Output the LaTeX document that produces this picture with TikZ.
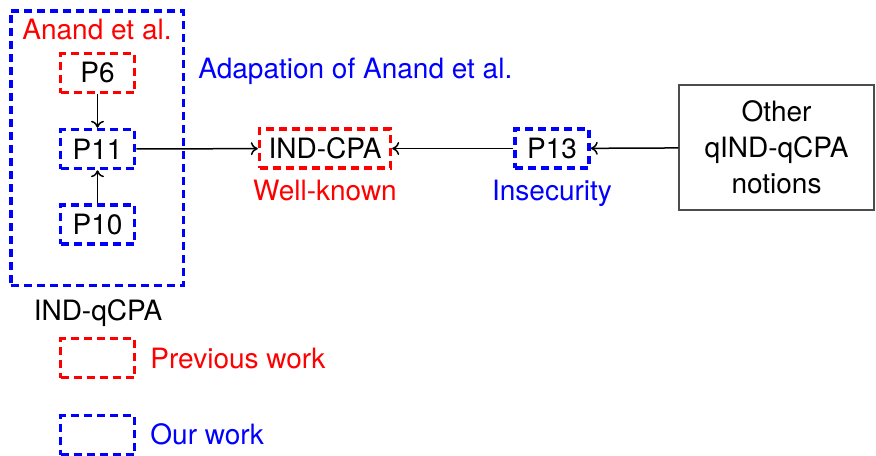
\documentclass[tikz,border=0pt]{standalone}
\usepackage{fontspec}
\setmainfont{TeX Gyre Heros}
\usetikzlibrary{arrows.meta}

\tikzstyle{box} = [minimum width=37pt, minimum height=19.5pt, inner xsep=4.5pt, line width=1.75pt, dash pattern=on 4pt off 2.5pt]
\tikzstyle{prev} = [box, draw=red]
\tikzstyle{ours} = [box, draw=blue]
\tikzstyle{link} = [-{To[length=3.5pt, width=6.5pt]}, line width=0.75pt]

\begin{document}
\begin{tikzpicture}[x=0.5pt, y=-0.5pt, font=\fontsize{14}{18}\selectfont]
\useasboundingbox (0,0) rectangle (876,455);

\node[ours, minimum width=86.25pt, minimum height=137.25pt] (qcpa) at (97,148) {};
\node[red, anchor=base] (anand) at (97,39) {Anand et al.};
\node[prev] (p6) at (97.5,73) {P6};
\node[ours] (p11) at (97.5,149) {P11};
\node[ours] (p10) at (97.5,224.5) {P10};
\node[anchor=base] (qcpalabel) at (98,320) {IND-qCPA};
\node[blue, anchor=base west, inner xsep=0pt] (adapt) at (198,78) {Adapation of Anand et al.};

\node[prev] (cpa) at (325,148.5) {IND-CPA};
\node[red, anchor=base] (known) at (325,200) {Well-known};
\node[ours] (p13) at (552,148.5) {P13};
\node[blue, anchor=base] (insec) at (552,200) {Insecurity};
\node[draw=black!70, line width=0.6pt, minimum width=97.5pt, minimum height=62.5pt, align=center] (other) at (776.5,147.5) {Other\\qIND-qCPA\\notions};

\draw[link] (p6) -- (p11);
\draw[link] (p10) -- (p11);
\draw[link] (p11) -- (cpa);
\draw[link] (p13) -- (cpa);
\draw[link] (other) -- (p13);

\node[prev] (legprev) at (97.5,358) {};
\node[red, anchor=base west, inner xsep=0pt] (prevtext) at (150,368) {Previous work};
\node[ours] (legours) at (97.5,435) {};
\node[blue, anchor=base west, inner xsep=0pt] (ourstext) at (150,444) {Our work};
\end{tikzpicture}
\end{document}
